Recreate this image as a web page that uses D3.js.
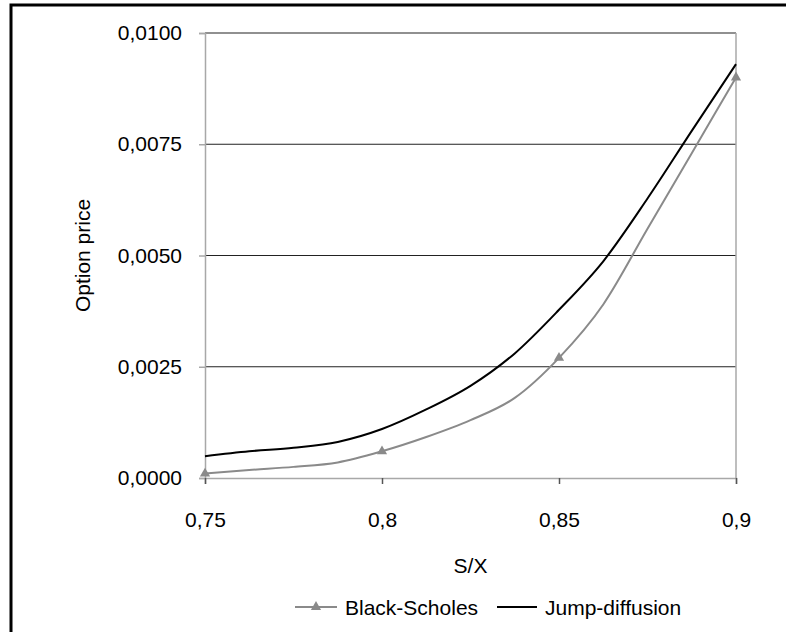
<!DOCTYPE html>
<html>
<head>
<meta charset="utf-8">
<script src="https://cdn.jsdelivr.net/npm/d3@7"></script>
<style>
  html, body { margin: 0; padding: 0; background: #fff; }
  svg text { font-family: "Liberation Sans", Arial, sans-serif; fill: #000; }
</style>
</head>
<body>
<svg id="chart" width="786" height="632"></svg>
<script>
// S/X grid on which both option prices are evaluated
const moneyness = [0.75, 0.7625, 0.775, 0.7875, 0.8, 0.8125, 0.825, 0.8375, 0.85, 0.8625, 0.875, 0.8875, 0.9];
// Black-Scholes option price
const blackScholes = [0.0001, 0.00018, 0.00025, 0.00035, 0.0006, 0.00092, 0.0013, 0.0018, 0.0027, 0.0039, 0.0056, 0.0073, 0.0090];
// Jump-diffusion option price
const jumpDiffusion = [0.00049, 0.0006, 0.00068, 0.00081, 0.0011, 0.00154, 0.00207, 0.0028, 0.00378, 0.00487, 0.00628, 0.0078, 0.0093];
// S/X values that carry a marker on the Black-Scholes line
const markerAt = [0.75, 0.8, 0.85, 0.9];
// axis ticks
const xTicks = [0.75, 0.8, 0.85, 0.9];
const yTicks = [0, 0.0025, 0.005, 0.0075, 0.01];

const svg = d3.select("#chart");
const plot = { left: 205, right: 736, top: 33, bottom: 478 };
const gray = "#8a8a8a";
const axisGray = "#a8a8a8";
const fs = 21;

// outer frame of the chart area
svg.append("rect")
  .attr("x", 11).attr("y", 5).attr("width", 900).attr("height", 900)
  .attr("fill", "none").attr("stroke", "#000").attr("stroke-width", 3);

const x = d3.scaleLinear().domain([0.75, 0.9]).range([plot.left, plot.right]);
const y = d3.scaleLinear().domain([0, 0.01]).range([plot.bottom, plot.top]);
const fmtY = v => d3.format(".4f")(v).replace(".", ",");
const fmtX = v => String(+v.toFixed(2)).replace(".", ",");

// horizontal gridlines
svg.append("g").selectAll("line").data(yTicks.filter(v => v > 0)).join("line")
  .attr("x1", plot.left).attr("x2", plot.right)
  .attr("y1", d => y(d)).attr("y2", d => y(d))
  .attr("stroke", "#222").attr("stroke-width", 1.2);

// right edge of the plot area
svg.append("line")
  .attr("x1", plot.right).attr("x2", plot.right)
  .attr("y1", plot.top).attr("y2", plot.bottom)
  .attr("stroke", axisGray).attr("stroke-width", 1.5);

// y axis
const yAxis = svg.append("g").attr("transform", `translate(${plot.left},0)`)
  .call(d3.axisLeft(y).tickValues(yTicks).tickFormat(fmtY).tickSize(6).tickPadding(17));
yAxis.select(".domain").attr("stroke", axisGray).attr("stroke-width", 1.5);
yAxis.selectAll(".tick line").attr("stroke", axisGray).attr("stroke-width", 1.5);
yAxis.selectAll("text").attr("font-size", fs).attr("font-family", "Liberation Sans, Arial, sans-serif").attr("fill", "#000");

// x axis
const xAxis = svg.append("g").attr("transform", `translate(0,${plot.bottom})`)
  .call(d3.axisBottom(x).tickValues(xTicks).tickFormat(fmtX).tickSize(6).tickPadding(28));
xAxis.select(".domain").attr("stroke", axisGray).attr("stroke-width", 1.5);
xAxis.selectAll(".tick line").attr("stroke", "#555").attr("stroke-width", 1.5);
xAxis.selectAll("text").attr("font-size", fs).attr("font-family", "Liberation Sans, Arial, sans-serif").attr("fill", "#000");

// axis titles
svg.append("text")
  .attr("transform", `translate(82,${(plot.top + plot.bottom) / 2}) rotate(-90)`)
  .attr("text-anchor", "middle").attr("dominant-baseline", "central")
  .attr("font-size", fs).text("Option price");
svg.append("text")
  .attr("x", (plot.left + plot.right) / 2).attr("y", 565)
  .attr("text-anchor", "middle").attr("dominant-baseline", "central")
  .attr("font-size", fs).text("S/X");

// smoothed price curves
const line = d3.line().curve(d3.curveMonotoneX).x(d => x(d[0])).y(d => y(d[1]));
const bsPts = moneyness.map((m, i) => [m, blackScholes[i]]);
const jdPts = moneyness.map((m, i) => [m, jumpDiffusion[i]]);

svg.append("path").datum(bsPts).attr("d", line)
  .attr("fill", "none").attr("stroke", gray).attr("stroke-width", 2);
svg.append("path").datum(jdPts).attr("d", line)
  .attr("fill", "none").attr("stroke", "#000").attr("stroke-width", 2);

const tri = d3.symbol().type(d3.symbolTriangle).size(45);
svg.append("g").selectAll("path").data(bsPts.filter(p => markerAt.includes(p[0]))).join("path")
  .attr("d", tri)
  .attr("transform", d => `translate(${x(d[0])},${y(d[1])})`)
  .attr("fill", gray);

// legend
const ly = 607;
const lg = svg.append("g");
lg.append("line").attr("x1", 295).attr("x2", 337).attr("y1", ly).attr("y2", ly)
  .attr("stroke", gray).attr("stroke-width", 2);
lg.append("path").attr("d", tri).attr("transform", `translate(316,${ly})`).attr("fill", gray);
lg.append("text").attr("x", 345).attr("y", ly).attr("dominant-baseline", "central")
  .attr("font-size", fs).text("Black-Scholes");
lg.append("line").attr("x1", 497).attr("x2", 537).attr("y1", ly).attr("y2", ly)
  .attr("stroke", "#000").attr("stroke-width", 2);
lg.append("text").attr("x", 545).attr("y", ly).attr("dominant-baseline", "central")
  .attr("font-size", fs).text("Jump-diffusion");
</script>
</body>
</html>
